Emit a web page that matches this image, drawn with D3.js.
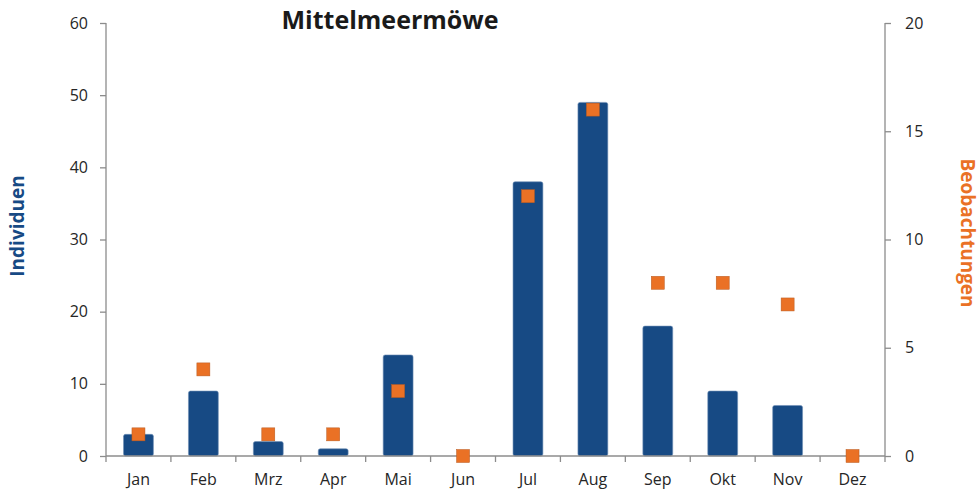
<!DOCTYPE html>
<html>
<head>
<meta charset="UTF-8">
<title>Mittelmeermöwe</title>
<script src="https://d3js.org/d3.v7.min.js"></script>
<style>
  body { margin: 0; background: #fff; }
  svg { font-family: "Open Sans", "Noto Sans", sans-serif; }
  .axis path, .axis line { stroke: #8c8c8c; stroke-width: 1.3; fill: none; }
  .axis text { fill: #262626; font-size: 16px; font-family: "Open Sans", "Noto Sans", sans-serif; }
</style>
</head>
<body>
<script>
// data
var months = ["Jan", "Feb", "Mrz", "Apr", "Mai", "Jun", "Jul", "Aug", "Sep", "Okt", "Nov", "Dez"];
var individuen = [3, 9, 2, 1, 14, 0, 38, 49, 18, 9, 7, 0];
var beobachtungen = [1, 4, 1, 1, 3, 0, 12, 16, 8, 8, 7, 0];
var leftTicks = [0, 10, 20, 30, 40, 50, 60];
var rightTicks = [0, 5, 10, 15, 20];

var W = 980, H = 493;
var margin = {top: 23, right: 95, bottom: 37, left: 106};
var width = W - margin.left - margin.right,
    height = H - margin.top - margin.bottom;

var svg = d3.select("body").append("svg")
    .attr("width", W).attr("height", H);

var g = svg.append("g")
    .attr("transform", "translate(" + margin.left + "," + margin.top + ")");

var x = d3.scaleBand().domain(months).range([0, width]).paddingInner(0.54).paddingOuter(0.27);
var xb = d3.scaleBand().domain(months).range([0, width]);
var yL = d3.scaleLinear().domain([0, 60]).range([height, 0]);
var yR = d3.scaleLinear().domain([0, 20]).range([height, 0]);

// bars
g.selectAll(".bar").data(individuen).enter().append("rect")
    .attr("class", "bar")
    .attr("x", function(d, i) { return x(months[i]); })
    .attr("y", function(d) { return yL(d); })
    .attr("width", x.bandwidth())
    .attr("height", function(d) { return height - yL(d); })
    .attr("rx", 2)
    .attr("fill", "#174a84")
    .attr("stroke", "#6f8fb5")
    .attr("stroke-width", 0.6);

// axes
var xAxis = g.append("g").attr("class", "axis")
    .attr("transform", "translate(0," + height + ")")
    .call(d3.axisBottom(xb).tickSize(0).tickPadding(18));
xAxis.selectAll("line").remove();
xAxis.selectAll(".bound").data(d3.range(months.length + 1)).enter().append("line")
    .attr("x1", function(i) { return i * xb.bandwidth(); })
    .attr("x2", function(i) { return i * xb.bandwidth(); })
    .attr("y1", 0).attr("y2", 6);
xAxis.select(".domain").attr("d", "M0,0H" + width);

g.append("g").attr("class", "axis")
    .call(d3.axisLeft(yL).tickValues(leftTicks).tickSize(6).tickPadding(12))
    .select(".domain").attr("d", "M0," + height + "V0");

g.append("g").attr("class", "axis")
    .attr("transform", "translate(" + width + ",0)")
    .call(d3.axisRight(yR).tickValues(rightTicks).tickSize(6).tickPadding(14))
    .select(".domain").attr("d", "M0," + height + "V0");

// squares on right scale
var s = 13;
g.selectAll(".pt").data(beobachtungen).enter().append("rect")
    .attr("class", "pt")
    .attr("x", function(d, i) { return xb(months[i]) + xb.bandwidth() / 2 - s / 2; })
    .attr("y", function(d) { return yR(d) - s / 2; })
    .attr("width", s).attr("height", s)
    .attr("fill", "#ea7125")
    .attr("stroke", "#b85a20")
    .attr("stroke-width", 0.5);

// titles
svg.append("text")
    .attr("x", 390).attr("y", 29)
    .attr("text-anchor", "middle")
    .attr("font-size", "25px").attr("font-weight", "bold").attr("fill", "#1a1a1a")
    .text("Mittelmeermöwe");

svg.append("text")
    .attr("transform", "translate(24,226) rotate(-90)")
    .attr("text-anchor", "middle")
    .attr("font-size", "19px").attr("font-weight", "bold").attr("fill", "#174a84")
    .text("Individuen");

svg.append("text")
    .attr("transform", "translate(961,233) rotate(90)")
    .attr("text-anchor", "middle")
    .attr("font-size", "19px").attr("font-weight", "bold").attr("fill", "#ea7125")
    .text("Beobachtungen");
</script>
</body>
</html>
